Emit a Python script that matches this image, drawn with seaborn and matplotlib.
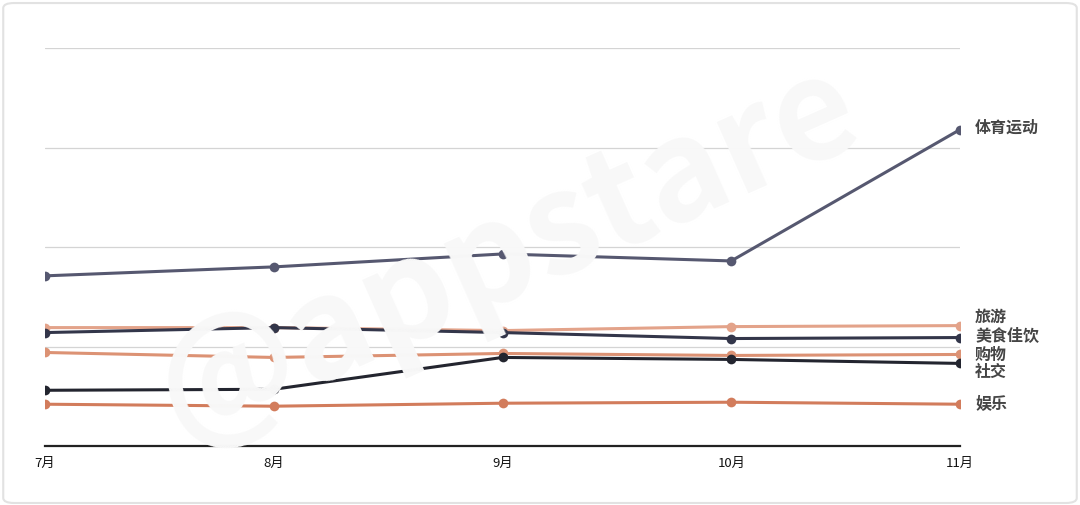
import numpy as np
import pandas as pd
import matplotlib.pyplot as plt
import seaborn as sns
from matplotlib.patches import FancyBboxPatch

months = ['7月', '8月', '9月', '10月', '11月']
sports = [171, 180, 193, 186, 318]
travel = [119, 119, 116, 120, 121]
food = [114, 119, 114, 108, 109]
shopping = [94, 89, 93, 91, 92]
social = [56, 57, 89, 87, 83]
fun = [42, 40, 43, 44, 42]

series = {'体育运动': sports, '旅游': travel, '美食佳饮': food,
          '购物': shopping, '社交': social, '娱乐': fun}
colors = {'体育运动': '#565870', '旅游': '#e3a38a', '美食佳饮': '#33364a',
          '购物': '#dc9274', '社交': '#23252f', '娱乐': '#d27c5c'}
# label nudges in pixels so the stacked names don't collide
nudge = {'体育运动': 2, '旅游': 9, '美食佳饮': 2, '购物': -1, '社交': -8, '娱乐': 0}

rows = []
for name, vals in series.items():
    for i, v in enumerate(vals):
        rows.append({'month': i, 'value': v, 'cat': name})
df = pd.DataFrame(rows)

sns.set_style('white')
plt.rcParams['font.family'] = ['Noto Sans CJK SC', 'DejaVu Sans']

fig = plt.figure(figsize=(10.8, 5.05), dpi=100)
fig.patches.append(FancyBboxPatch((0.003, 0.004), 0.994, 0.99, boxstyle='round,pad=0,rounding_size=0.01',
                                  transform=fig.transFigure, fill=False, edgecolor='#e2e2e2', linewidth=1.5))
fig.text(0.47, 0.5, '@appstare', fontsize=100, fontweight='bold', color='#f8f8f8',
         rotation=24, ha='center', va='center', zorder=0)

ax = fig.add_axes([45 / 1080, 1 - 446 / 505, 915 / 1080, 398 / 505])
ax.patch.set_alpha(0)
sns.lineplot(data=df, x='month', y='value', hue='cat', palette=colors, marker='o',
             markersize=7, linewidth=2.2, markeredgewidth=0, legend=False, ax=ax, zorder=3)

ax.set_ylim(0, 400)
ax.set_xlim(0, 4)
ax.set_yticks([100, 200, 300, 400])
ax.yaxis.grid(True, color='#d4d4d4', linewidth=0.9)
ax.set_yticklabels([])
ax.tick_params(axis='y', length=0)
ax.set_xticks(range(5))
ax.set_xticklabels(months, fontsize=9.5, color='#111111')
ax.tick_params(axis='x', length=0, pad=8)
ax.set_xlabel('')
ax.set_ylabel('')
for s in ['top', 'right', 'left']:
    ax.spines[s].set_visible(False)
ax.spines['bottom'].set_color('#222222')
ax.spines['bottom'].set_linewidth(1.6)

for name, vals in series.items():
    ax.annotate(name, (4, vals[-1]), xytext=(15, nudge[name]), textcoords='offset pixels',
                fontsize=11.5, fontweight='bold', color='#454545', va='center', ha='left',
                annotation_clip=False)

fig.savefig('out.png', dpi=100)
